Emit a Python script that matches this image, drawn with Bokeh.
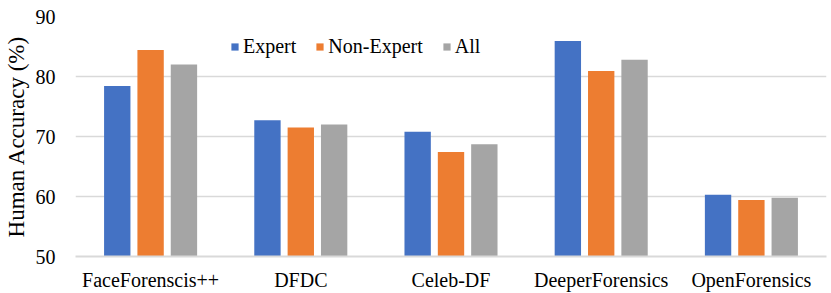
from bokeh.plotting import figure
from bokeh.models import ColumnDataSource, FactorRange, Range1d, FixedTicker, Legend, LegendItem
from bokeh.transform import dodge
from bokeh.embed import file_html
from bokeh.resources import INLINE

categories = ["FaceForenscis++", "DFDC", "Celeb-DF", "DeeperForensics", "OpenForensics"]
expert = [78.4, 72.7, 70.8, 85.9, 60.3]
non_expert = [84.4, 71.5, 67.4, 80.9, 59.4]
all_users = [82.0, 72.0, 68.7, 82.8, 59.8]
series_names = ["Expert", "Non-Expert", "All"]
y_ticks = [50, 60, 70, 80, 90]

colors = ["#4472C4", "#ED7D31", "#A5A5A5"]
FONT = "'Liberation Serif', 'Times New Roman', serif"

src = ColumnDataSource(dict(cat=categories, expert=expert, non_expert=non_expert, all_users=all_users))

p = figure(x_range=FactorRange(*categories, range_padding=0), y_range=Range1d(50, 90),
           width=831, height=293, output_backend="svg", toolbar_location=None,
           min_border_left=71, min_border_right=5, min_border_top=16, min_border_bottom=37)
p.outline_line_color = None

w = 0.1755
off = 0.222
renderers = []
for field, offset, color in zip(["expert", "non_expert", "all_users"], [-off, 0, off], colors):
    r = p.vbar(x=dodge("cat", offset, range=p.x_range), top=field, bottom=0, width=w,
               source=src, fill_color=color, line_color=None)
    renderers.append(r)

p.yaxis.ticker = FixedTicker(ticks=y_ticks)
p.yaxis.axis_line_color = None
p.yaxis.major_tick_line_color = None
p.yaxis.minor_tick_line_color = None
p.yaxis.major_label_standoff = 14
p.yaxis.axis_label = "Human Accuracy (%)"
p.yaxis.axis_label_text_font = FONT
p.yaxis.axis_label_text_font_size = "23px"
p.yaxis.axis_label_text_font_style = "normal"
p.yaxis.axis_label_standoff = 4
p.yaxis.major_label_text_font = FONT
p.yaxis.major_label_text_font_size = "20px"
p.yaxis.major_label_text_color = "#000000"
p.yaxis.axis_label_text_color = "#000000"

p.xaxis.axis_line_color = "#d9d9d9"
p.xaxis.axis_line_width = 2
p.xaxis.major_tick_line_color = None
p.xaxis.minor_tick_line_color = None
p.xaxis.major_label_standoff = 6
p.xaxis.major_label_text_font = FONT
p.xaxis.major_label_text_font_size = "20px"
p.xaxis.major_label_text_color = "#000000"

p.xgrid.grid_line_color = None
p.ygrid.grid_line_color = "#d9d9d9"
p.ygrid.grid_line_width = 1.5

legend = Legend(items=[LegendItem(label=n, renderers=[r]) for n, r in zip(series_names, renderers)],
                orientation="horizontal", location=(155, 198),
                glyph_width=9, glyph_height=9, label_standoff=4, spacing=19,
                padding=0, margin=0, border_line_alpha=0, background_fill_alpha=0,
                label_text_font=FONT, label_text_font_size="20px", label_height=18,
                label_text_color="#000000")
p.add_layout(legend)

open("out.html", "w").write(file_html(p, INLINE))
